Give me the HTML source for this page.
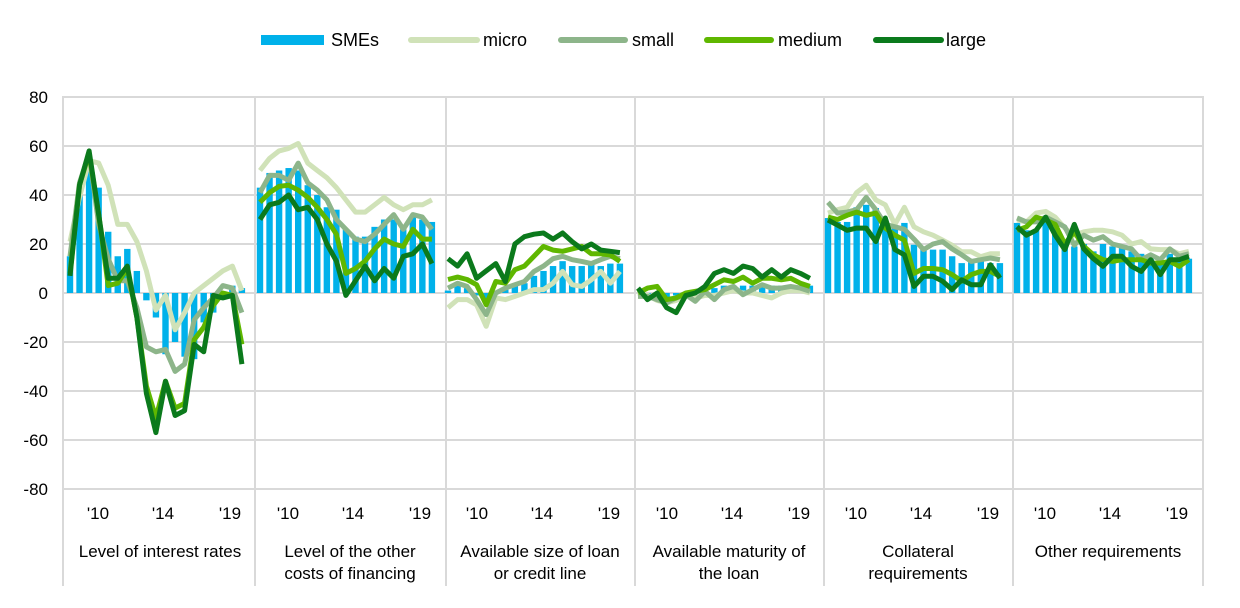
<!DOCTYPE html>
<html><head><meta charset="utf-8"><style>
body{margin:0;background:#fff;}
svg text{font-family:"Liberation Sans",Arial,sans-serif;fill:#000;}
</style></head><body>
<svg id="c" width="1240" height="603" viewBox="0 0 1240 603" xmlns="http://www.w3.org/2000/svg">
<g id="grid"></g>
<g id="bars"></g>
<g id="lines" fill="none" stroke-width="5" stroke-linejoin="round"></g>
<g font-size="17" text-anchor="end">
<text x="48" y="103">80</text><text x="48" y="152">60</text><text x="48" y="201">40</text><text x="48" y="250">20</text><text x="48" y="299">0</text><text x="48" y="348">-20</text><text x="48" y="397">-40</text><text x="48" y="446">-60</text><text x="48" y="495">-80</text>
</g>
<g font-size="17" text-anchor="middle">
<text x="98" y="519">'10</text><text x="163" y="519">'14</text><text x="230" y="519">'19</text>
<text x="288" y="519">'10</text><text x="353" y="519">'14</text><text x="420" y="519">'19</text>
<text x="477" y="519">'10</text><text x="542" y="519">'14</text><text x="609" y="519">'19</text>
<text x="667" y="519">'10</text><text x="732" y="519">'14</text><text x="799" y="519">'19</text>
<text x="856" y="519">'10</text><text x="921" y="519">'14</text><text x="988" y="519">'19</text>
<text x="1045" y="519">'10</text><text x="1110" y="519">'14</text><text x="1177" y="519">'19</text>
<text x="160" y="557">Level of interest rates</text>
<text x="350" y="557">Level of the other</text><text x="350" y="579">costs of financing</text>
<text x="540" y="557">Available size of loan</text><text x="540" y="579">or credit line</text>
<text x="729" y="557">Available maturity of</text><text x="729" y="579">the loan</text>
<text x="918" y="557">Collateral</text><text x="918" y="579">requirements</text>
<text x="1108" y="557">Other requirements</text>
</g>
<g font-size="18">
<rect x="261" y="35" width="63" height="10" fill="#00b1ea"/><text x="331" y="46">SMEs</text>
<line x1="411" y1="40" x2="477" y2="40" stroke="#d0e2b8" stroke-width="6" stroke-linecap="round"/><text x="483" y="46">micro</text>
<line x1="561" y1="40" x2="625" y2="40" stroke="#8db58a" stroke-width="6" stroke-linecap="round"/><text x="632" y="46">small</text>
<line x1="707" y1="40" x2="771" y2="40" stroke="#5fb700" stroke-width="6" stroke-linecap="round"/><text x="778" y="46">medium</text>
<line x1="876" y1="40" x2="941" y2="40" stroke="#0b7a1c" stroke-width="6" stroke-linecap="round"/><text x="946" y="46">large</text>
</g>
</svg>
<script>
var NS="http://www.w3.org/2000/svg";
function el(p,t,a){var e=document.createElementNS(NS,t);for(var k in a)e.setAttribute(k,a[k]);p.appendChild(e);return e;}
var g=document.getElementById('grid'),b=document.getElementById('bars'),l=document.getElementById('lines');
for(var i=0;i<9;i++){var y=97+i*49;el(g,'line',{x1:62,x2:1203,y1:y,y2:y,stroke:'#d9d9d9','stroke-width':2});}
[63,255,446,635,824,1013,1203].forEach(function(x){el(g,'line',{x1:x,x2:x,y1:96,y2:586,stroke:'#d9d9d9','stroke-width':2});});
function Y(v){return 293-v*2.45;}
var starts=[70,260,448,638,828,1017],step=9.55;
var P=[
{s:[15,40,55,43,25,15,18,9,-3,-10,-25,-20,-26,-27,-12,-8,-2,3,2],
 mi:[21,39,54,53,44,28,28,21,9,-7,-1,-15,-8,0,3,6,9,11,1],
 sm:[15,45,57,28,14,5,5,-6,-22,-24,-23,-32,-29,-11,-6,-2,3,2,-8],
 me:[8,44,57,32,3,4,10,-10,-38,-51,-36,-47,-45,-19,-14,-5,0,-1,-21],
 la:[7,44,58,32,6,6,11,-10,-41,-57,-36,-50,-48,-21,-24,-1,-2,-1,-29]},
{s:[43,49,50,51,50,44,40,35,34,26,23,23,27,30,30,26,31,30,29],
 mi:[50,55,58,59,61,53,50,47,43,38,33,33,36,39,36,34,36,36,38],
 sm:[41,48,48,46,53,45,42,38,30,26,22,21,24,28,32,26,32,31,26],
 me:[37,41,43.5,44,42,39,35,30,24,8,10,13,18,22,20,19,26,22,22],
 la:[30,36,37,40,34,35,30,20,13,-1,5,11,5,10,6,15,16,20,12]},
{s:[1,3,2,-1,-3,0,2,3,4,7,9,11,13,11,11,12,11,12,12],
 mi:[-6,-2.7,-2.7,-4.8,-13.6,-2,-2.7,-1.4,0,1.4,1.4,4,8.8,3.4,2.7,5.4,8.8,4,8.8],
 sm:[2,4,2.7,-2.7,-8.8,0,2,3.4,4.7,8.8,11,14,15,13.6,12.9,12,13.6,15,14],
 me:[5.5,6.5,5.5,3.4,-4.8,4.7,4,9.5,11,15,19,17.5,17,18,19,16,16,15.5,12.9],
 la:[14,11,16,6,9,12,4.7,20,23,24,24.5,22,24.5,21,18,20,17.5,17,16.5]},
{s:[0,-1,-1,-2,-1,0,0,1,2,3,3,3,3,3,3,3,3,3,3],
 mi:[0,-1,-3,-4,-3,-1,-2,-1,-1,0,1,0,0,-1,-2,0,1,1,0],
 sm:[-1.4,-1.4,-2.7,-4,-2,-0.7,-3.4,0.7,-2.7,1.4,2.7,-0.7,1.4,3.4,2,2,2.7,2,0.7],
 me:[0,2,2.7,-2.7,-2,0,0.7,1.4,3.4,5.4,4.7,6.5,4,6,6,5.4,6,4,2.7],
 la:[2,-2.7,0,-6,-8,-1,0,2.7,8,9.5,8,11,10,6.5,9.5,6.5,9.5,8,6]},
{s:[30.6,29,29,35,36,34.7,28,27,28.6,19.7,18,17.7,17.7,15,12.2,12.5,13,12.2,12.2],
 mi:[32.6,34,35,41,44,38,36,28,35,27,25,23.6,21.6,19.5,16.8,16.8,14.8,16,16],
 sm:[37,32.6,33,34,39,34,28,27,26,22,17.7,20,21,18,15.6,12.9,13.6,14.3,13.6],
 me:[31,30,31.7,33,31.7,32.6,26.5,23.6,21.6,8,10,10,9.5,7.5,4.8,7.5,8.8,8.8,6.8],
 la:[29.8,27.7,25.6,26.5,26.5,21,30.6,17.7,15.6,2.7,6.8,6.8,4.8,1.4,5.4,3.4,3.4,11.5,6.1]},
{s:[28.6,25.6,26,29.8,25.6,21.6,19,20,17,20,19,19,17,16,15,12,16,13,14],
 mi:[29.8,29,32.6,33.3,31,26.5,23.6,25,25.6,25.6,25,23.6,20,21,18,17.7,17.7,16,17],
 sm:[30.6,29,29,31,29,27,19.5,23.6,21.6,23,20,19,18,13.6,15.6,13.6,18,15,16],
 me:[25.6,27,31,29.8,28,20,25,19,15.6,13.6,12.9,13.6,13.6,13.6,12.2,12.2,12.9,10.9,13.6],
 la:[27,23.6,25.6,31,23.6,17.7,28,18,14,10.9,15,15,10.9,8.8,13.6,7.5,13.6,13.6,15]}
];
var cols={mi:'#d0e2b8',sm:'#8db58a',me:'#5fb700',la:'#0b7a1c'};
P.forEach(function(p,pi){
  var x0=starts[pi];
  p.s.forEach(function(v,i){var x=x0+i*step;var y=Y(v);el(b,'rect',{x:x-3.2,y:Math.min(y,293),width:6.4,height:Math.abs(293-y),fill:'#00b1ea'});});
  ['mi','sm','me','la'].forEach(function(k){
    var pts=p[k].map(function(v,i){return (x0+i*step).toFixed(1)+','+Y(v).toFixed(1);}).join(' ');
    el(l,'polyline',{points:pts,stroke:cols[k]});
  });
});
</script>
</body></html>
